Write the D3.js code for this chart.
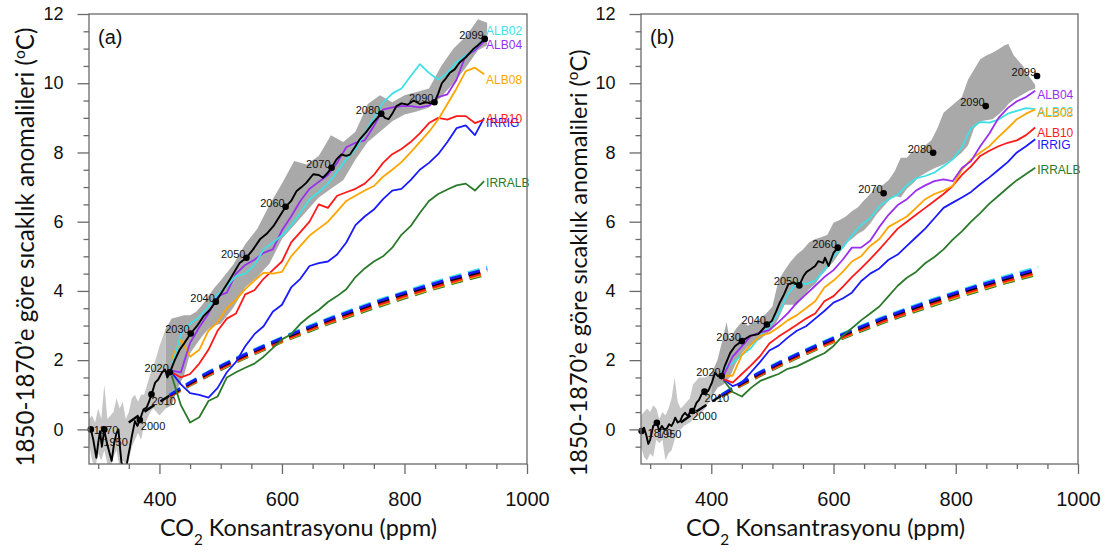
<!DOCTYPE html>
<html>
<head>
<meta charset="utf-8">
<script src="https://cdn.jsdelivr.net/npm/d3@7"></script>
<style>
  body { margin: 0; background: #fff; }
  svg { display: block; }
</style>
</head>
<body>
<svg id="chart" width="1106" height="552"></svg>
<script>
// ---------------- data ----------------
// Axis ticks
const xTicks = [400, 600, 800, 1000];
const xMinorTicks = [300, 350, 450, 500, 550, 650, 700, 750, 850, 900, 950];
const yTicks = [0, 2, 4, 6, 8, 10, 12];
const yMinorTicks = [-0.5, 0.5, 1, 1.5, 2.5, 3, 3.5, 4.5, 5, 5.5, 6.5, 7, 7.5, 8.5, 9, 9.5, 10.5, 11, 11.5];

// CO2 (ppm) at which the scenario runs are sampled (2020 -> 2099)
const co2Grid = [420,435,450,465,480,495,510,525,540,555,570,585,600,615,630,645,660,675,690,705,720,735,750,765,780,795,810,825,840,855,870,885,900,915,930];

// Panel (a) scenario runs, warming (°C)
const alb02A  = [1.8,2.75,3.05,3.25,3.55,3.9,4.14,4.43,4.5,4.75,5.2,5.4,5.6,5.9,6.25,6.65,6.85,7.1,7.45,7.8,8.1,8.55,9.0,9.44,9.7,9.85,10.2,10.55,10.3,10.1,10.3,10.6,10.8,11.0,11.3];
const alb04A  = [1.7,1.65,2.5,2.95,3.35,3.85,3.95,4.5,4.75,4.9,5.1,5.2,5.75,6.15,6.6,6.95,7.15,7.35,7.7,8.15,8.28,8.35,8.76,9.24,9.3,9.34,9.34,9.3,9.35,9.6,9.68,10.1,10.8,10.95,11.2];
const alb08A  = [2.05,2.6,2.1,2.3,2.85,3.1,3.5,3.75,4.05,4.3,4.53,4.5,4.55,5.0,5.3,5.6,5.8,6.0,6.3,6.6,6.75,6.9,7.03,7.3,7.5,7.72,8.0,8.3,8.6,8.95,9.4,9.85,10.35,10.45,10.26];
const alb10A  = [1.65,1.5,1.6,1.9,2.3,2.85,3.2,3.35,3.9,4.02,4.35,4.6,4.85,5.4,5.7,6.0,6.5,6.4,6.75,6.85,6.95,7.1,7.35,7.7,7.95,8.1,8.3,8.55,8.85,9.0,8.95,9.05,9.05,8.85,8.95];
const irrigA  = [1.64,1.3,1.05,1.0,0.92,1.2,1.65,1.95,2.4,2.75,2.98,3.4,3.6,4.1,4.35,4.72,4.8,4.85,5.05,5.4,5.9,6.15,6.35,6.65,6.9,6.95,7.2,7.5,7.7,7.95,8.3,8.7,8.78,8.5,9.0];
const irralbA = [1.55,0.7,0.2,0.35,0.82,0.95,1.5,1.65,1.78,1.9,2.1,2.35,2.6,2.75,3.05,3.27,3.45,3.68,3.85,4.05,4.4,4.65,4.85,5.0,5.25,5.62,5.87,6.25,6.6,6.8,6.93,7.05,7.1,6.9,7.17];

// Panel (b) scenario runs, warming (°C)
const alb02B  = [1.75,1.92,2.15,2.35,2.7,2.98,3.35,3.9,4.24,4.2,4.3,4.6,5.0,5.25,5.6,5.9,6.1,6.45,6.65,6.78,7.05,7.25,7.32,7.42,7.6,7.8,8.15,8.7,8.88,8.86,8.95,9.12,9.2,9.28,9.25];
const alb04B  = [1.55,2.1,2.4,2.7,2.8,2.87,3.1,3.35,3.66,3.9,4.15,4.4,4.6,4.9,5.25,5.25,5.45,5.85,6.2,6.48,6.65,6.9,7.05,7.17,7.22,7.17,7.55,7.75,8.18,8.55,9.0,9.28,9.48,9.6,9.78];
const alb08B  = [1.55,1.55,2.15,2.45,2.7,2.78,2.95,3.15,3.3,3.5,3.7,4.1,4.3,4.55,4.85,5.0,5.3,5.5,5.85,6.0,6.15,6.4,6.65,6.8,6.9,7.03,7.5,7.8,8.0,8.18,8.45,8.7,8.96,9.12,9.24];
const alb10B  = [1.45,1.35,1.6,1.85,2.12,2.48,2.68,2.85,3.02,3.2,3.35,3.7,3.85,4.12,4.4,4.65,4.92,5.2,5.5,5.8,6.0,6.2,6.4,6.6,6.8,7.03,7.35,7.6,7.9,8.05,8.18,8.28,8.35,8.5,8.72];
const irrigB  = [1.45,1.25,1.35,1.65,1.95,2.28,2.42,2.65,2.85,2.98,3.2,3.42,3.66,3.78,3.95,4.28,4.5,4.65,4.9,5.05,5.3,5.55,5.8,6.1,6.4,6.55,6.7,6.86,7.08,7.28,7.5,7.72,8.0,8.18,8.38];
const irralbB = [1.42,1.08,0.95,1.2,1.4,1.5,1.6,1.75,1.82,1.95,2.08,2.2,2.41,2.7,2.92,3.15,3.35,3.55,3.85,4.15,4.38,4.55,4.8,4.98,5.2,5.48,5.72,6.0,6.25,6.52,6.75,6.98,7.2,7.38,7.56];

// Dashed (CO2-only response) curves, shared by both panels
const dashCO2    = [417,450,480,510,540,570,600,640,680,720,760,800,840,880,935];
const dashBlack  = [0.98,1.33,1.62,1.89,2.14,2.38,2.61,2.9,3.18,3.43,3.68,3.91,4.13,4.34,4.6];
const dashBlue   = [1.0,1.36,1.65,1.92,2.17,2.41,2.64,2.93,3.21,3.47,3.72,3.95,4.17,4.38,4.64];
const dashCyan   = [1.01,1.37,1.67,1.94,2.19,2.43,2.66,2.96,3.24,3.5,3.75,3.98,4.21,4.42,4.69];
const dashRed    = [0.96,1.3,1.58,1.85,2.1,2.33,2.56,2.85,3.12,3.37,3.62,3.85,4.07,4.28,4.54];
const dashOrange = [0.95,1.29,1.57,1.83,2.08,2.31,2.54,2.83,3.1,3.35,3.59,3.82,4.04,4.25,4.51];
const dashGreen  = [0.94,1.27,1.55,1.81,2.06,2.29,2.52,2.8,3.07,3.32,3.56,3.79,4.01,4.22,4.48];
const dashLeadCO2 = [350,370,390,417];
const dashLeadT   = [0.2,0.45,0.68,0.98];

// Reference (black) run: [CO2 ppm, °C]
const blackA = [[285,0.05],[288,0],[292,-0.3],[297,-0.82],[300,-0.4],[303,-0.05],[306,-0.5],[310,0],[313,-0.3],[317,-0.58],
  [322,-0.91],[326,-0.4],[330,-0.1],[333,0],[336,-0.6],[338,-0.96],[343,-1.1],[345,-1.2],[349,-0.77],[352,-0.5],
  [355,-0.19],[360,0.24],[364,0.1],[368,0.27],[374,0.58],[379,0.63],[383,0.8],[387,1.01],[393,1.35],[398,1.44],
  [404,1.64],[409,1.73],[413,1.5],[417,1.65],[425,2.0],[433,2.3],[441,2.5],[451,2.77],[461,2.98],[472,3.27],
  [482,3.45],[492,3.69],[503,4.0],[515,4.33],[531,4.81],[542,4.96],[553,5.2],[564,5.49],[575,5.65],[586,5.87],
  [596,6.15],[606,6.43],[615,6.6],[624,6.89],[632,7.0],[640,7.13],[651,7.37],[660,7.35],[667,7.27],[674,7.4],
  [681,7.56],[689,7.8],[697,7.94],[705,7.9],[711,7.94],[719,8.15],[727,8.38],[738,8.6],[749,8.86],[762,9.12],
  [768,9.0],[774,8.96],[781,9.15],[787,9.34],[795,9.42],[805,9.38],[815,9.5],[825,9.4],[835,9.45],[843,9.42],
  [849,9.45],[855,9.7],[861,10.0],[868,10.15],[874,10.3],[882,10.4],[890,10.6],[900,10.75],[912,10.98],[920,11.1],[931,11.28]];
const blackB = [[286,-0.05],[290,0.05],[294,-0.19],[297,-0.42],[300,-0.3],[305,0.1],[311,0.19],[315,-0.05],[319,0.1],[323,0.0],
  [327,0.02],[331,0.15],[335,0.1],[338,0.2],[341,0.34],[345,0.2],[349,0.24],[353,0.4],[357,0.48],[362,0.38],
  [365,0.5],[369,0.53],[372,0.6],[376,0.77],[380,0.85],[384,1.01],[389,1.09],[395,1.11],[401,1.35],[406,1.64],
  [411,1.54],[417,1.54],[422,1.83],[431,2.21],[439,2.41],[450,2.55],[463,2.7],[477,2.75],[491,3.03],[499,3.13],
  [506,3.4],[512,3.66],[519,3.9],[526,4.19],[535,4.25],[544,4.16],[551,4.43],[556,4.55],[562,4.62],[570,4.72],
  [575,4.86],[583,4.81],[586,4.96],[592,4.72],[600,5.1],[607,5.25]];

// Ensemble spread: [CO2 ppm, low °C, high °C]
const bandA = [[285,-0.4,0.3],[290,-0.9,0.4],[295,-1.1,0.2],[300,-0.7,0.6],[305,-0.9,0.3],[310,-0.6,1.3],[315,-1.0,0.3],[320,-1.1,0.4],
  [325,-0.8,0.5],[330,-0.6,0.9],[335,-1.1,0.6],[340,-0.9,0.8],[345,-1.0,0.3],[350,-0.9,0.5],[355,-0.5,0.9],[360,-0.3,1.0],
  [365,-0.1,0.8],[370,-0.3,1.0],[375,0.1,1.0],[380,0.3,1.3],[385,0.5,1.6],[390,0.6,1.8],[395,0.5,2.1],[400,0.4,2.4],
  [410,0.6,2.9],[420,0.7,3.2],[430,1.2,3.25],[440,1.55,3.3],[450,2.2,3.3],[460,2.45,3.4],[470,2.7,3.6],[480,2.9,3.85],
  [490,3.0,4.1],[500,3.05,4.3],[520,3.5,4.75],[540,4.1,5.35],[560,4.4,5.8],[580,4.8,6.5],[600,5.5,7.1],[620,5.9,7.75],
  [640,6.3,7.65],[660,6.7,7.9],[680,6.95,8.5],[700,7.2,8.3],[720,7.8,8.6],[740,8.3,9.4],[760,8.6,9.65],[780,8.9,9.45],
  [800,9.1,9.65],[820,9.18,9.75],[840,9.3,9.85],[860,9.6,10.5],[880,10.0,11.0],[900,10.45,11.35],[920,10.95,11.85],[935,11.1,11.75]];
const bandB = [[285,-0.5,0.4],[290,-0.8,0.5],[295,-0.9,0.6],[300,-0.7,0.5],[305,-0.8,0.7],[310,-0.3,0.6],[315,-0.4,0.3],[320,-0.3,0.5],
  [325,-0.9,0.4],[330,-0.7,0.6],[335,-0.6,0.9],[340,-0.3,1.5],[345,0.0,0.8],[350,0.0,0.6],[355,0.1,0.7],[360,0.15,0.8],
  [365,0.2,0.9],[370,0.3,1.3],[380,0.4,1.5],[390,0.6,1.5],[400,0.9,1.6],[410,1.2,2.0],[420,1.3,2.7],[425,1.4,3.1],
  [430,1.5,2.6],[440,1.9,2.9],[450,2.2,3.1],[460,2.4,3.0],[470,2.5,3.1],[480,2.6,3.2],[490,2.75,3.35],[500,2.9,3.55],
  [510,3.2,4.3],[520,3.6,4.6],[530,3.6,4.85],[540,3.6,5.05],[550,3.8,5.2],[560,4.05,5.4],[570,4.2,5.5],[580,4.45,5.55],
  [590,4.65,5.62],[600,4.85,5.97],[610,5.1,6.05],[620,5.38,6.15],[630,5.5,6.3],[640,5.65,6.42],[650,5.75,6.62],[660,5.95,6.8],
  [670,6.2,7.0],[680,6.4,7.05],[690,6.6,7.2],[700,6.75,7.45],[710,6.7,7.85],[720,6.95,7.85],[730,7.1,8.05],[740,7.3,8.0],
  [750,7.4,8.2],[760,7.5,8.35],[770,7.58,8.7],[780,7.65,9.15],[790,7.75,9.3],[800,7.85,9.45],[810,8.0,9.6],[820,8.2,10.1],
  [830,8.7,10.4],[840,8.9,10.69],[850,8.93,10.8],[860,8.96,10.88],[870,9.1,10.98],[880,9.26,11.1],[886,9.4,11.13],[895,9.53,10.8],
  [910,9.68,10.5],[920,9.78,10.2],[930,9.85,9.95]];

// Year markers on the reference run: [year, CO2 ppm, °C]
const yearsA = [[1870,288,0],[1950,310,0],[2000,368,0.27],[2010,387,1.01],[2020,417,1.65],[2030,451,2.77],[2040,492,3.69],
  [2050,542,4.96],[2060,606,6.43],[2070,681,7.56],[2080,762,9.12],[2090,849,9.45],[2099,931,11.28]];
const yearsB = [[1870,286,-0.05],[1950,311,0.19],[2000,369,0.53],[2010,389,1.09],[2020,417,1.54],[2030,450,2.55],[2040,491,3.03],
  [2050,544,4.16],[2060,607,5.25],[2070,682,6.82],[2080,763,7.99],[2090,849,9.34],[2099,933,10.21]];

// ---------------- styles ----------------
const C = { ALB02: '#3ee0e6', ALB04: '#9a2ff0', ALB08: '#ffa500', ALB10: '#ff1a1a', IRRIG: '#1a1aff', IRRALB: '#2b7a2b' };
const tickFont = '"Liberation Sans", Arial, Helvetica, sans-serif';
const titleFont = 'Lato, "Open Sans", sans-serif';

const panels = [
  { tag: '(a)', left: 89, top: 14, width: 438, height: 450, black: blackA, band: bandA, years: yearsA, histSplit: 410,
    runs: [
      { name: 'IRRALB', v: irralbA, dy: 2 },
      { name: 'IRRIG',  v: irrigA,  dy: 5 },
      { name: 'ALB10',  v: alb10A,  dy: -1 },
      { name: 'ALB08',  v: alb08A,  dy: 6 },
      { name: 'ALB04',  v: alb04A,  dy: 3 },
      { name: 'ALB02',  v: alb02A,  dy: -7 } ],
    yearPos: { 1870: [3, 1, 'start'], 1950: [-1, 13, 'start'], 2000: [1, 6, 'start'], 2010: [0, 7, 'start'] },
    yTitle: { x: 34, cy: 247, len: 439 }, xTitle: { cx: 298.5, y: 536, len: 277 } },
  { tag: '(b)', left: 641, top: 14, width: 437, height: 450, black: blackB, band: bandB, years: yearsB, histSplit: 400,
    runs: [
      { name: 'IRRALB', v: irralbB, dy: 2 },
      { name: 'IRRIG',  v: irrigB,  dy: 5 },
      { name: 'ALB10',  v: alb10B,  dy: 5 },
      { name: 'ALB02',  v: alb02B,  dy: 3 },
      { name: 'ALB08',  v: alb08B,  dy: 3 },
      { name: 'ALB04',  v: alb04B,  dy: 4 } ],
    yearPos: { 1870: [6, 2, 'start'], 1950: [0, 11, 'start'], 2000: [0, 5, 'start'], 2010: [0, 6, 'start'] },
    yTitle: { x: 587, cy: 263, len: 427 }, xTitle: { cx: 825.5, y: 536, len: 279 } }
];

const dashed = [
  { v: dashGreen, c: C.IRRALB }, { v: dashOrange, c: C.ALB08 }, { v: dashRed, c: C.ALB10 },
  { v: dashCyan, c: C.ALB02 }, { v: dashBlack, c: '#000' }, { v: dashBlue, c: C.IRRIG }
];

// ---------------- drawing ----------------
const svg = d3.select('#chart');

panels.forEach((p, i) => {
  const x = d3.scaleLinear().domain([285, 1000]).range([0, p.width]);
  const y = d3.scaleLinear().domain([-1, 12]).range([p.height, 0]);
  const g = svg.append('g').attr('transform', `translate(${p.left},${p.top})`);

  const clipId = 'clip' + i;
  g.append('clipPath').attr('id', clipId)
    .append('rect').attr('width', p.width).attr('height', p.height);
  const plot = g.append('g').attr('clip-path', `url(#${clipId})`);

  // ensemble spread
  const area = d3.area().x(d => x(d[0])).y0(d => y(d[1])).y1(d => y(d[2]));
  plot.append('path').datum(p.band.filter(d => d[0] <= p.histSplit))
    .attr('d', area).attr('fill', '#c6c6c6');
  plot.append('path').datum(p.band.filter(d => d[0] >= p.histSplit))
    .attr('d', area).attr('fill', '#a9a9a9');

  const line = d3.line().x(d => x(d[0])).y(d => y(d[1]));

  // dashed CO2-only curves
  plot.append('path').datum(d3.zip(dashLeadCO2, dashLeadT))
    .attr('d', line).attr('fill', 'none').attr('stroke', '#000')
    .attr('stroke-width', 2.4).attr('stroke-dasharray', '12,7');
  dashed.forEach(s => {
    plot.append('path').datum(d3.zip(dashCO2, s.v))
      .attr('d', line).attr('fill', 'none').attr('stroke', s.c)
      .attr('stroke-width', 2.6).attr('stroke-dasharray', '12,7');
  });

  // scenario runs
  p.runs.forEach(r => {
    plot.append('path').datum(d3.zip(co2Grid, r.v))
      .attr('d', line).attr('fill', 'none').attr('stroke', C[r.name])
      .attr('stroke-width', 1.8).attr('stroke-linejoin', 'round');
  });

  // year labels
  const yl = g.append('g').attr('font-family', tickFont).attr('font-size', 11).attr('fill', '#111');
  p.years.forEach(([yr, co2, t]) => {
    const pos = p.yearPos[yr] || [-1, -4, 'end'];
    yl.append('text').attr('x', x(co2) + pos[0]).attr('y', y(t) + pos[1])
      .attr('dy', '0.35em').attr('text-anchor', pos[2]).text(yr);
  });

  // reference run
  plot.append('path').datum(p.black).attr('d', line).attr('fill', 'none')
    .attr('stroke', '#000').attr('stroke-width', 1.9).attr('stroke-linejoin', 'round');

  // year dots
  g.append('g').selectAll('circle').data(p.years).join('circle')
    .attr('cx', d => x(d[1])).attr('cy', d => y(d[2])).attr('r', 3.3).attr('fill', '#000');

  // run names at line ends
  const ll = g.append('g').attr('font-family', tickFont).attr('font-size', 12);
  p.runs.forEach(r => {
    const last = r.v.length - 1;
    ll.append('text').attr('x', x(co2Grid[last]) + 2).attr('y', y(r.v[last]) + r.dy)
      .attr('dy', '0.35em').attr('fill', C[r.name]).text(r.name);
  });

  // frame
  g.append('rect').attr('width', p.width).attr('height', p.height)
    .attr('fill', 'none').attr('stroke', '#6a6a6a').attr('stroke-width', 1.3);

  // axes
  const styleAxis = sel => {
    sel.select('.domain').remove();
    sel.selectAll('line').attr('stroke', '#6a6a6a').attr('stroke-width', 1.3);
    sel.attr('font-family', tickFont).attr('fill', null);
    sel.selectAll('text').attr('fill', '#111');
  };
  g.append('g').attr('transform', `translate(0,${p.height})`)
    .call(d3.axisBottom(x).tickValues(xMinorTicks).tickSize(5).tickFormat(''))
    .call(styleAxis);
  g.append('g').attr('transform', `translate(0,${p.height})`)
    .call(d3.axisBottom(x).tickValues(xTicks).tickSize(10).tickPadding(18).tickFormat(d3.format('d')))
    .call(styleAxis).attr('font-size', 20);
  g.append('g')
    .call(d3.axisLeft(y).tickValues(yMinorTicks).tickSize(5.5).tickFormat(''))
    .call(styleAxis);
  g.append('g')
    .call(d3.axisLeft(y).tickValues(yTicks).tickSize(11.5).tickPadding(14).tickFormat(d3.format('d')))
    .call(styleAxis).attr('font-size', 18);

  // panel tag
  g.append('text').attr('x', 9).attr('y', 30).attr('font-family', tickFont)
    .attr('font-size', 20).attr('fill', '#111').text(p.tag);

  // axis titles
  const fit = (sel, target) => {
    const len = sel.node().getComputedTextLength();
    sel.attr('font-size', 22 * target / len);
  };
  const yt = svg.append('text')
    .attr('transform', `translate(${p.yTitle.x},${p.yTitle.cy}) rotate(-90)`)
    .attr('text-anchor', 'middle').attr('font-family', titleFont).attr('font-size', 22).attr('fill', '#111');
  yt.append('tspan').text('1850-1870\u2019e göre sıcaklık anomalileri (');
  yt.append('tspan').attr('baseline-shift', 'super').attr('font-size', '65%').text('o');
  yt.append('tspan').text('C)');
  fit(yt, p.yTitle.len);

  const xt = svg.append('text')
    .attr('x', p.xTitle.cx).attr('y', p.xTitle.y)
    .attr('text-anchor', 'middle').attr('font-family', titleFont).attr('font-size', 22).attr('fill', '#111');
  xt.append('tspan').text('CO');
  xt.append('tspan').attr('baseline-shift', 'sub').attr('font-size', '65%').text('2');
  xt.append('tspan').text(' Konsantrasyonu (ppm)');
  fit(xt, p.xTitle.len);
});
</script>
</body>
</html>
